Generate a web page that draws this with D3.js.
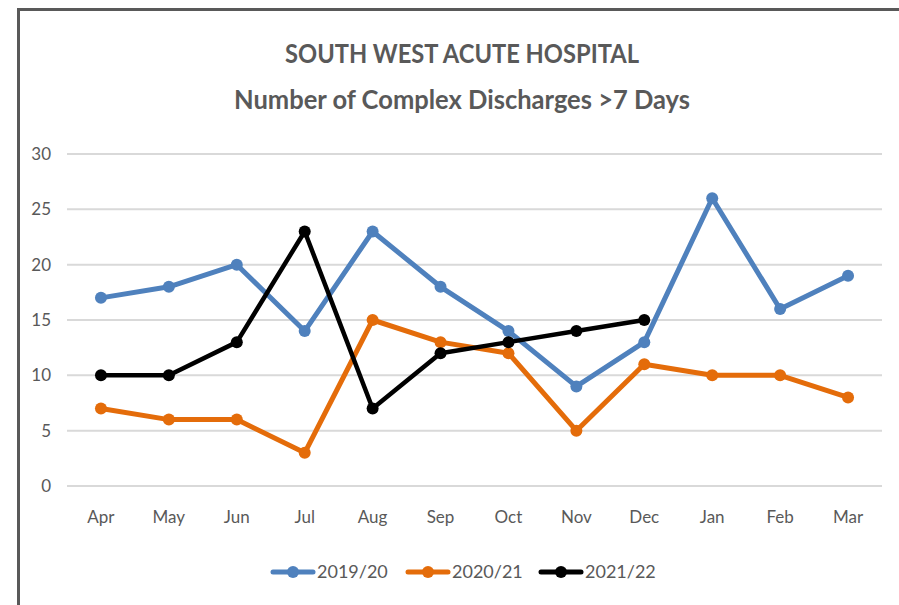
<!DOCTYPE html>
<html>
<head>
<meta charset="utf-8">
<script src="https://cdn.jsdelivr.net/npm/d3@7"></script>
<style>
  body { margin: 0; background: #fff; }
  svg { display: block; font-family: Lato, "Open Sans", sans-serif; }
</style>
</head>
<body>
<div id="chart"></div>
<script>
// data
const months = ["Apr","May","Jun","Jul","Aug","Sep","Oct","Nov","Dec","Jan","Feb","Mar"];
const y1920 = [17, 18, 20, 14, 23, 18, 14, 9, 13, 26, 16, 19];
const y2021 = [7, 6, 6, 3, 15, 13, 12, 5, 11, 10, 10, 8];
const y2122 = [10, 10, 13, 23, 7, 12, 13, 14, 15];
const seriesNames = ["2019/20", "2020/21", "2021/22"];
const yTicks = [0, 5, 10, 15, 20, 25, 30];

var width = 899, height = 605;
var colors = ["#4F81BD", "#E46C0A", "#000000"];
var textColor = "#595959";

var svg = d3.select("#chart").append("svg")
    .attr("width", width)
    .attr("height", height);

// frame (only left + top show in the crop)
svg.append("path")
    .attr("d", "M18.5,605 L18.5,9.5 L899,9.5")
    .attr("fill", "none")
    .attr("stroke", "#595959")
    .attr("stroke-width", 3);

// title
var title = svg.append("g")
    .attr("fill", textColor)
    .attr("font-weight", "bold")
    .attr("text-anchor", "middle")
    .attr("font-size", 26);
title.append("text").attr("x", 462).attr("y", 63)
    .attr("textLength", 354).attr("lengthAdjust", "spacingAndGlyphs")
    .text("SOUTH WEST ACUTE HOSPITAL");
title.append("text").attr("x", 462).attr("y", 109)
    .attr("textLength", 456).attr("lengthAdjust", "spacingAndGlyphs")
    .text("Number of Complex Discharges >7 Days");

var x = d3.scaleBand().domain(months).range([67, 882]);
var y = d3.scaleLinear().domain([0, 30]).range([486, 154]);

// gridlines
svg.append("g")
    .selectAll("line")
    .data(yTicks)
    .join("line")
    .attr("x1", 67).attr("x2", 882)
    .attr("y1", d => y(d)).attr("y2", d => y(d))
    .attr("stroke", "#D9D9D9")
    .attr("stroke-width", 2);

// y axis labels
svg.append("g")
    .attr("fill", textColor)
    .attr("font-size", 17)
    .attr("text-anchor", "end")
    .selectAll("text")
    .data(yTicks)
    .join("text")
    .attr("x", 51)
    .attr("y", d => y(d))
    .attr("dy", "0.35em")
    .text(d => d);

// x axis labels
svg.append("g")
    .attr("fill", textColor)
    .attr("font-size", 17)
    .attr("text-anchor", "middle")
    .selectAll("text")
    .data(months)
    .join("text")
    .attr("x", d => x(d) + x.bandwidth() / 2)
    .attr("y", 517)
    .attr("dy", "0.35em")
    .text(d => d);

var allSeries = [y1920, y2021, y2122];
var line = d3.line()
    .x((d, i) => x(months[i]) + x.bandwidth() / 2)
    .y(d => y(d));

allSeries.forEach((vals, k) => {
    var g = svg.append("g");
    g.append("path")
        .datum(vals)
        .attr("fill", "none")
        .attr("stroke", colors[k])
        .attr("stroke-width", k == 2 ? 4.5 : 5)
        .attr("stroke-linejoin", "round")
        .attr("d", line);
    g.selectAll("circle")
        .data(vals)
        .join("circle")
        .attr("cx", (d, i) => x(months[i]) + x.bandwidth() / 2)
        .attr("cy", d => y(d))
        .attr("r", 6)
        .attr("fill", colors[k]);
});

// legend
var legendX = [273, 408, 541];
var legend = svg.append("g")
    .selectAll("g")
    .data(seriesNames)
    .join("g")
    .attr("transform", (d, i) => `translate(${legendX[i]},572)`);
legend.append("line")
    .attr("x1", 0).attr("x2", 40)
    .attr("stroke", (d, i) => colors[i])
    .attr("stroke-width", 5)
    .attr("stroke-linecap", "round");
legend.append("circle")
    .attr("cx", 20).attr("r", 6)
    .attr("fill", (d, i) => colors[i]);
legend.append("text")
    .attr("x", 44)
    .attr("dy", "0.35em")
    .attr("font-size", 18)
    .attr("fill", textColor)
    .text(d => d);
</script>
</body>
</html>
